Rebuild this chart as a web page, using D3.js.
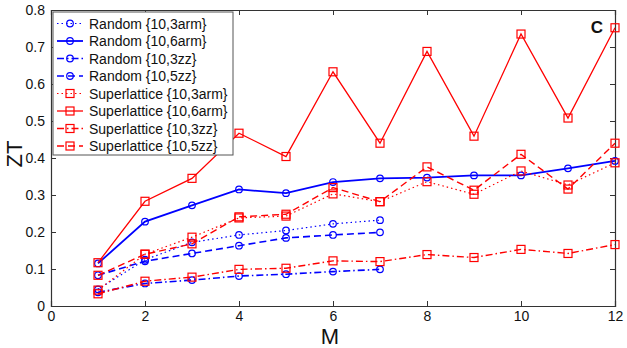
<!DOCTYPE html>
<html lang="en">
<head>
<meta charset="UTF-8">
<title>ZT vs M</title>
<style>
  body { margin: 0; background: #fff; }
  svg text { font-family: "Liberation Sans", Arial, sans-serif; fill: #111; }
</style>
</head>
<body>
<svg id="chart" width="627" height="348"></svg>
<script src="https://cdnjs.cloudflare.com/ajax/libs/d3/7.8.5/d3.min.js"></script>
<script>
// ---- data ----
const mAll = [1, 2, 3, 4, 5, 6, 7, 8, 9, 10, 11, 12];
const mShort = [1, 2, 3, 4, 5, 6, 7];

const random3arm = [0.045, 0.125, 0.172, 0.192, 0.204, 0.222, 0.232];
const random6arm = [0.115, 0.228, 0.272, 0.315, 0.305, 0.335, 0.345, 0.347, 0.353, 0.353, 0.372, 0.392];
const random3zz  = [0.037, 0.061, 0.070, 0.081, 0.086, 0.093, 0.099];
const random5zz  = [0.083, 0.121, 0.142, 0.163, 0.184, 0.192, 0.199];
const super3arm  = [0.043, 0.140, 0.186, 0.238, 0.243, 0.303, 0.282, 0.336, 0.302, 0.365, 0.327, 0.387];
const super6arm  = [0.117, 0.283, 0.345, 0.467, 0.404, 0.633, 0.440, 0.688, 0.459, 0.735, 0.508, 0.752];
const super3zz   = [0.033, 0.067, 0.078, 0.099, 0.102, 0.122, 0.120, 0.139, 0.131, 0.153, 0.142, 0.166];
const super5zz   = [0.083, 0.140, 0.168, 0.241, 0.248, 0.320, 0.282, 0.376, 0.313, 0.410, 0.316, 0.440];

const xTicks = [0, 2, 4, 6, 8, 10, 12];
const yTicks = [0, 0.1, 0.2, 0.3, 0.4, 0.5, 0.6, 0.7, 0.8];

const series = [
  { name: "Random {10,3arm}",       m: mShort, v: random3arm, color: "#0000ff", dash: "1.5,3",        mark: "circle", w: 1.2 },
  { name: "Random {10,6arm}",       m: mAll,   v: random6arm, color: "#0000ff", dash: null,           mark: "circle", w: 1.8 },
  { name: "Random {10,3zz}",        m: mShort, v: random3zz,  color: "#0000ff", dash: "7,3,1.5,3",    mark: "circle", w: 1.6 },
  { name: "Random {10,5zz}",        m: mShort, v: random5zz,  color: "#0000ff", dash: "7,4",          mark: "circle", w: 1.6 },
  { name: "Superlattice {10,3arm}", m: mAll,   v: super3arm,  color: "#ff0000", dash: "1.5,3",        mark: "square", w: 1.2 },
  { name: "Superlattice {10,6arm}", m: mAll,   v: super6arm,  color: "#ff0000", dash: null,           mark: "square", w: 1.3 },
  { name: "Superlattice {10,3zz}",  m: mAll,   v: super3zz,   color: "#ff0000", dash: "7,3,1.5,3",    mark: "square", w: 1.4 },
  { name: "Superlattice {10,5zz}",  m: mAll,   v: super5zz,   color: "#ff0000", dash: "7,4",          mark: "square", w: 1.4 }
];

// ---- layout ----
const plotL = 51, plotR = 615, plotT = 10, plotB = 306;
const svg = d3.select("#chart");

const x = d3.scaleLinear().domain([0, 12]).range([plotL, plotR]);
const y = d3.scaleLinear().domain([0, 0.8]).range([plotB, plotT]);

// axes box with inward ticks on all sides
const axisColor = "#333";
svg.append("g").attr("transform", `translate(0,${plotB})`)
  .call(d3.axisBottom(x).tickValues(xTicks).tickSize(-5).tickPadding(5).tickFormat(d3.format("d")));
svg.append("g").attr("transform", `translate(0,${plotT})`)
  .call(d3.axisTop(x).tickValues(xTicks).tickSize(-5).tickFormat(""));
svg.append("g").attr("transform", `translate(${plotL},0)`)
  .call(d3.axisLeft(y).tickValues(yTicks).tickSize(-5).tickPadding(6).tickFormat(d => d === 0 ? "0" : d3.format(".1f")(d)));
svg.append("g").attr("transform", `translate(${plotR},0)`)
  .call(d3.axisRight(y).tickValues(yTicks).tickSize(-5).tickFormat(""));

svg.selectAll(".domain").attr("stroke", axisColor).attr("stroke-width", 1.2);
svg.selectAll(".tick line").attr("stroke", axisColor);
svg.selectAll(".tick text").attr("font-size", 14).attr("fill", "#111");

// axis titles
svg.append("text").attr("x", (plotL + plotR) / 2 - 3).attr("y", 344)
  .attr("text-anchor", "middle").attr("font-size", 22).text("M");
svg.append("text").attr("transform", `translate(22,154) rotate(-90)`)
  .attr("text-anchor", "middle").attr("font-size", 22).text("ZT");

svg.append("text").attr("x", 597).attr("y", 33).attr("text-anchor", "middle")
  .attr("font-size", 17).attr("font-weight", "bold").text("C");

// ---- lines and markers ----
const line = d3.line().x(d => x(d[0])).y(d => y(d[1]));

function drawMarker(g, mark, color, cx, cy) {
  if (mark === "circle") {
    g.append("circle").attr("cx", cx).attr("cy", cy).attr("r", 3.3)
      .attr("fill", "none").attr("stroke", color).attr("stroke-width", 1.2);
  } else {
    g.append("rect").attr("x", cx - 4).attr("y", cy - 4).attr("width", 8).attr("height", 8)
      .attr("fill", "none").attr("stroke", color).attr("stroke-width", 1.2);
  }
}

const plot = svg.append("g");
series.forEach(s => {
  const pts = s.m.map((m, i) => [m, s.v[i]]);
  plot.append("path").datum(pts).attr("d", line)
    .attr("fill", "none").attr("stroke", s.color).attr("stroke-width", s.w)
    .attr("stroke-dasharray", s.dash);
  const mg = plot.append("g");
  pts.forEach(p => drawMarker(mg, s.mark, s.color, x(p[0]), y(p[1])));
});

// ---- legend ----
const lg = svg.append("g");
lg.append("rect").attr("x", 53).attr("y", 12).attr("width", 180).attr("height", 143)
  .attr("fill", "#fff").attr("stroke", "#555").attr("stroke-width", 1);
series.forEach((s, i) => {
  const ry = 23.5 + i * 17.5;
  lg.append("line").attr("x1", 57).attr("x2", 83).attr("y1", ry).attr("y2", ry)
    .attr("stroke", s.color).attr("stroke-width", s.w).attr("stroke-dasharray", s.dash);
  drawMarker(lg, s.mark, s.color, 70, ry);
  lg.append("text").attr("x", 89).attr("y", ry + 5).attr("font-size", 14).text(s.name);
});
</script>
</body>
</html>
